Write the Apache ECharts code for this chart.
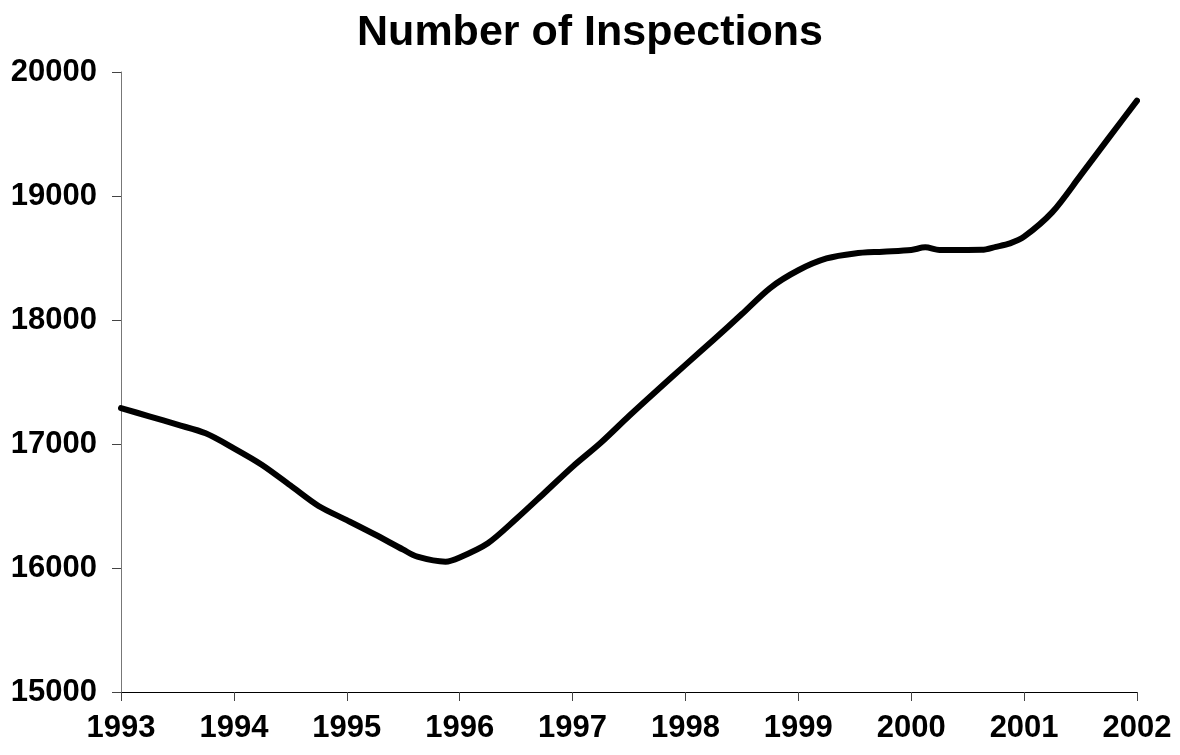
<!DOCTYPE html>
<html>
<head>
<meta charset="utf-8">
<title>Number of Inspections</title>
<script src="https://cdn.jsdelivr.net/npm/echarts@6/dist/echarts.min.js"></script>
<style>
  html, body { margin: 0; padding: 0; background: #ffffff; }
  #chart { width: 1180px; height: 755px; }
</style>
</head>
<body>
<div id="chart"></div>
<script>
// Inspection counts by date (decimal year)
const years = [
  1993.00, 1993.25, 1993.50, 1993.75, 1994.00, 1994.25, 1994.50, 1994.75,
  1995.00, 1995.25, 1995.50, 1995.625, 1995.875, 1996.00, 1996.25, 1996.50,
  1996.75, 1997.00, 1997.25, 1997.50, 1997.75, 1998.00, 1998.25, 1998.50,
  1998.75, 1999.00, 1999.25, 1999.50, 1999.75, 2000.00, 2000.125, 2000.25,
  2000.50, 2000.625, 2000.75, 2000.875, 2001.00, 2001.25, 2001.50, 2001.75, 2002.00
];
const inspections = [
  17290, 17223, 17156, 17086, 16965, 16831, 16666, 16500,
  16386, 16270, 16148, 16091, 16051, 16085, 16200, 16395,
  16605, 16817, 17010, 17226, 17434, 17638, 17841, 18048,
  18258, 18401, 18496, 18537, 18551, 18565, 18586, 18565,
  18565, 18566, 18590, 18618, 18672, 18870, 19166, 19469, 19769
];
const yearTicks = [1993, 1994, 1995, 1996, 1997, 1998, 1999, 2000, 2001, 2002];
const valueTicks = [15000, 16000, 17000, 18000, 19000, 20000];

const FONT = '"Liberation Sans", Arial, Helvetica, sans-serif';

const chart = echarts.init(document.getElementById('chart'), null, { renderer: 'canvas' });

chart.setOption({
  backgroundColor: '#ffffff',
  animation: false,
  title: {
    text: 'Number of Inspections',
    left: 'center',
    top: 7,
    textStyle: { fontFamily: FONT, fontWeight: 'bold', fontSize: 43, color: '#000' }
  },
  grid: { left: 121, right: 43, top: 72, bottom: 63, containLabel: false },
  xAxis: {
    type: 'value',
    min: yearTicks[0],
    max: yearTicks[yearTicks.length - 1],
    interval: 1,
    splitLine: { show: false },
    axisLine: { onZero: false, lineStyle: { color: '#000', width: 1 } },
    axisTick: { show: true, length: 9, inside: false, lineStyle: { color: '#444' } },
    axisLabel: {
      margin: 21,
      fontFamily: FONT, fontWeight: 'bold', fontSize: 31, color: '#000',
      formatter: v => String(v)
    }
  },
  yAxis: {
    type: 'value',
    min: valueTicks[0],
    max: valueTicks[valueTicks.length - 1],
    interval: 1000,
    splitLine: { show: false },
    axisLine: { show: true, lineStyle: { color: '#777', width: 1 } },
    axisTick: { show: true, length: 9, inside: false, lineStyle: { color: '#444' } },
    axisLabel: {
      margin: 24,
      fontFamily: FONT, fontWeight: 'bold', fontSize: 31, color: '#000',
      formatter: v => String(v)
    }
  },
  series: [{
    type: 'line',
    data: years.map((y, i) => [y, inspections[i]]),
    smooth: 0.3,
    showSymbol: false,
    symbol: 'none',
    lineStyle: { color: '#000', width: 6, cap: 'round', join: 'round' }
  }]
});
</script>
</body>
</html>
